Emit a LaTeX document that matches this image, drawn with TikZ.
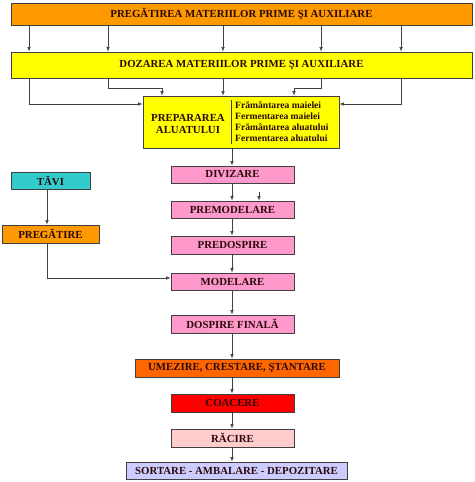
\documentclass[tikz,border=0pt]{standalone}
\usepackage{fontspec}
\setmainfont{Liberation Serif}
\usetikzlibrary{arrows.meta}
\definecolor{corange}{HTML}{FF9900}
\definecolor{cyell}{HTML}{FFFF00}
\definecolor{cpink}{HTML}{FF99CC}
\definecolor{cteal}{HTML}{33CCCC}
\definecolor{cdorange}{HTML}{FF6600}
\definecolor{cred}{HTML}{FF0000}
\definecolor{clpink}{HTML}{FFCCCC}
\definecolor{clav}{HTML}{CCCCFF}
\definecolor{ctext}{HTML}{2A0A0A}
\definecolor{cline}{HTML}{404040}
\tikzset{
  box/.style={draw=cline, line width=0.8pt, inner sep=0pt, align=center,
    font=\fontsize{10.8}{12}\selectfont\bfseries, text=ctext},
  txt/.style={inner sep=0pt, text=ctext},
  arr/.style={draw=cline, line width=0.6pt, -{Latex[length=4.5pt,width=3.5pt]}},
  ln/.style={draw=cline, line width=0.6pt}
}
\begin{document}
\begin{tikzpicture}[x=1pt,y=-1pt]
\useasboundingbox (0,0) rectangle (474,482);
% boxes
\node[box, fill=corange, minimum width=461pt, minimum height=22pt] (top) at (241.5,14) {PREGĂTIREA MATERIILOR PRIME ŞI AUXILIARE};
\node[box, fill=cyell, minimum width=461pt, minimum height=26pt] (doz) at (241.5,65) {DOZAREA MATERIILOR PRIME ŞI AUXILIARE};
\node[box, fill=cyell, minimum width=196pt, minimum height=52pt] (prep) at (241,122) {};
\node[txt, align=center, font=\fontsize{10.8}{12}\selectfont\bfseries] (prepl) at (188,124) {PREPARAREA\\ALUATULUI};
\node[txt, align=left, font=\fontsize{9.6}{11}\selectfont\bfseries, anchor=west] (prepr) at (235,122) {Frământarea maielei\\Fermentarea maielei\\Frământarea aluatului\\Fermentarea aluatului};
\coordinate (d1) at (231,100);
\coordinate (d2) at (231,144);
\draw[ln] (d1) -- (d2);
\node[box, fill=cpink, minimum width=123pt, minimum height=17pt] (div) at (232.5,174.5) {DIVIZARE};
\node[box, fill=cpink, minimum width=123pt, minimum height=17pt] (premod) at (232.5,209.5) {PREMODELARE};
\node[box, fill=cpink, minimum width=123pt, minimum height=18pt] (predosp) at (232.5,245) {PREDOSPIRE};
\node[box, fill=cpink, minimum width=123pt, minimum height=17pt] (model) at (232.5,281.5) {MODELARE};
\node[box, fill=cpink, minimum width=123pt, minimum height=18pt] (dosp) at (232.5,324) {DOSPIRE FINALĂ};
\node[box, fill=cdorange, minimum width=204pt, minimum height=18pt] (umez) at (237,368) {UMEZIRE, CRESTARE, ŞTANTARE};
\node[box, fill=cred, minimum width=123pt, minimum height=18pt] (coac) at (232.5,403) {COACERE};
\node[box, fill=clpink, minimum width=123pt, minimum height=18pt] (rac) at (232.5,438) {RĂCIRE};
\node[box, fill=clav, minimum width=221pt, minimum height=17pt] (sort) at (236.5,470.5) {SORTARE - AMBALARE - DEPOZITARE};
\node[box, fill=cteal, minimum width=79pt, minimum height=17pt] (tavi) at (50.5,180.5) {TĂVI};
\node[box, fill=corange, minimum width=97pt, minimum height=18pt] (preg) at (50.5,234) {PREGĂTIRE};
% helper coordinates
\coordinate (c1) at (29,0);
\coordinate (c2) at (108,0);
\coordinate (c3) at (223,0);
\coordinate (c4) at (321,0);
\coordinate (c5) at (401,0);
\coordinate (k2) at (108,88);
\coordinate (k2b) at (162,88);
\coordinate (k4) at (321,88);
\coordinate (k4b) at (294,88);
\coordinate (yl) at (0,104);
\coordinate (cm) at (232,0);
\coordinate (ct) at (47,0);
\coordinate (ym) at (0,278);
\coordinate (s) at (259,192);
% top -> doz
\foreach \c in {c1,c2,c3,c4,c5} \draw[arr] (top.south -| \c) -- (doz.north -| \c);
% doz -> prep
\draw[arr] (doz.south -| c1) |- (prep.west |- yl);
\draw[arr] (doz.south -| c2) -- (k2) -- (k2b) -- (prep.north -| k2b);
\draw[arr] (doz.south -| c3) -- (prep.north -| c3);
\draw[arr] (doz.south -| c4) -- (k4) -- (k4b) -- (prep.north -| k4b);
\draw[arr] (doz.south -| c5) |- (prep.east |- yl);
% main column
\draw[arr] (prep.south -| cm) -- (div.north -| cm);
\draw[arr] (div.south -| cm) -- (premod.north -| cm);
\draw[arr] (s) -- (premod.north -| s);
\draw[arr] (premod.south -| cm) -- (predosp.north -| cm);
\draw[arr] (predosp.south -| cm) -- (model.north -| cm);
\draw[arr] (model.south -| cm) -- (dosp.north -| cm);
\draw[arr] (dosp.south -| cm) -- (umez.north -| cm);
\draw[arr] (umez.south -| cm) -- (coac.north -| cm);
\draw[arr] (coac.south -| cm) -- (rac.north -| cm);
\draw[arr] (rac.south -| cm) -- (sort.north -| cm);
% side
\draw[arr] (tavi.south -| ct) -- (preg.north -| ct);
\draw[arr] (preg.south -| ct) |- (model.west |- ym);
\end{tikzpicture}
\end{document}
